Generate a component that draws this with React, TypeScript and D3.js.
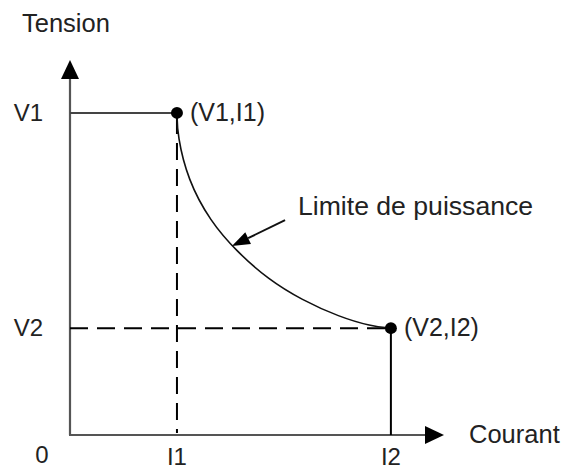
import React from 'react';
import * as d3 from 'd3';

// Data (arbitrary units, 0..100 on each axis)
const xTickLabels = ['I1', 'I2'];
const xTickValues = [28.6, 85.8];
const yTickLabels = ['V1', 'V2'];
const yTickValues = [85.9, 28.5];
const pointLabels = ['(V1,I1)', '(V2,I2)'];
const pointCurrent = [28.6, 85.8];
const pointVoltage = [85.9, 28.5];
const curveCurrent = [28.6, 28.7, 31.5, 37.5, 44.5, 53.0, 62.0, 72.0, 80.5, 85.8];
const curveVoltage = [85.9, 80.0, 68.0, 57.0, 49.0, 41.5, 36.0, 31.5, 29.0, 28.5];
const annotationStart = [57.5, 57.3];
const annotationTip = [43.3, 50.4];

const W = 569;
const H = 470;
const FONT = '"Liberation Sans", Arial, Helvetica, sans-serif';

export default function App() {
  const x = d3.scaleLinear().domain([0, 100]).range([70, 444]);
  const y = d3.scaleLinear().domain([0, 100]).range([435, 60]);

  const curvePts: [number, number][] = curveCurrent.map((c, i) => [c, curveVoltage[i]]);
  const line = d3
    .line<[number, number]>()
    .x((d) => x(d[0]))
    .y((d) => y(d[1]))
    .curve(d3.curveBasis);

  const x0 = x(0);
  const y0 = y(0);
  const yTop = y(100);
  const xEnd = x(100);

  // annotation arrow geometry
  const ax1 = x(annotationStart[0]);
  const ay1 = y(annotationStart[1]);
  const ax2 = x(annotationTip[0]);
  const ay2 = y(annotationTip[1]);
  const ang = Math.atan2(ay2 - ay1, ax2 - ax1);
  const aLen = 18;
  const aHalf = 6.5;
  const bx = ax2 - aLen * Math.cos(ang);
  const by = ay2 - aLen * Math.sin(ang);
  const px = -Math.sin(ang) * aHalf;
  const py = Math.cos(ang) * aHalf;

  const txt = '#222';
  return (
    <svg
      width={W}
      height={H}
      style={{ position: 'absolute', left: 0, top: 0, background: '#fff' }}
      fontFamily={FONT}
    >
      <rect x={0} y={0} width={W} height={H} fill="#fff" />
      {/* axes */}
      <line x1={x0} y1={y0} x2={x0} y2={yTop + 18} stroke="#555" strokeWidth={2.2} />
      <line x1={x0 - 1} y1={y0} x2={xEnd - 18} y2={y0} stroke="#555" strokeWidth={2.2} />
      <polygon points={`${x0},${yTop} ${x0 - 9},${yTop + 19} ${x0 + 9},${yTop + 19}`} fill="#000" />
      <polygon points={`${xEnd},${y0} ${xEnd - 19},${y0 - 9} ${xEnd - 19},${y0 + 9}`} fill="#000" />

      {/* V1 solid horizontal */}
      <line x1={x0} y1={y(yTickValues[0])} x2={x(pointCurrent[0])} y2={y(yTickValues[0])} stroke="#444" strokeWidth={2} />
      {/* dashed vertical from I1 */}
      <line
        x1={x(xTickValues[0])}
        y1={y(pointVoltage[0])}
        x2={x(xTickValues[0])}
        y2={y0 - 2}
        stroke="#000"
        strokeWidth={2}
        strokeDasharray="17 9"
        strokeDashoffset={-4}
      />
      {/* dashed horizontal at V2 */}
      <line
        x1={x0}
        y1={y(yTickValues[1])}
        x2={x(pointCurrent[1])}
        y2={y(yTickValues[1])}
        stroke="#000"
        strokeWidth={2}
        strokeDasharray="18 9"
      />
      {/* solid vertical from I2 */}
      <line x1={x(xTickValues[1])} y1={y(pointVoltage[1])} x2={x(xTickValues[1])} y2={y0} stroke="#000" strokeWidth={2} />

      {/* power limit curve */}
      <path d={line(curvePts) || ''} fill="none" stroke="#111" strokeWidth={1.6} />

      {/* points */}
      {pointLabels.map((lab, i) => (
        <g key={lab}>
          <circle cx={x(pointCurrent[i])} cy={y(pointVoltage[i])} r={6} fill="#000" />
          <text x={x(pointCurrent[i]) + 13} y={y(pointVoltage[i]) + 8} fontSize={25} fill={txt}>
            {lab}
          </text>
        </g>
      ))}

      {/* annotation arrow */}
      <line x1={ax1} y1={ay1} x2={bx} y2={by} stroke="#111" strokeWidth={2} />
      <polygon points={`${ax2},${ay2} ${bx + px},${by + py} ${bx - px},${by - py}`} fill="#000" />
      <text x={298} y={215} fontSize={26.6} fill={txt}>
        Limite de puissance
      </text>

      {/* tick labels */}
      {yTickLabels.map((lab, i) => (
        <text key={lab} x={x0 - 27} y={y(yTickValues[i]) + 8} fontSize={24} textAnchor="end" fill={txt}>
          {lab}
        </text>
      ))}
      {xTickLabels.map((lab, i) => (
        <text key={lab} x={x(xTickValues[i])} y={465} fontSize={24} textAnchor="middle" fill={txt}>
          {lab}
        </text>
      ))}
      <text x={x0 - 28} y={463} fontSize={24} textAnchor="middle" fill={txt}>
        0
      </text>

      {/* axis titles */}
      <text x={22} y={32} fontSize={25.5} fill={txt}>
        Tension
      </text>
      <text x={469} y={443} fontSize={25.5} fill={txt}>
        Courant
      </text>
    </svg>
  );
}
